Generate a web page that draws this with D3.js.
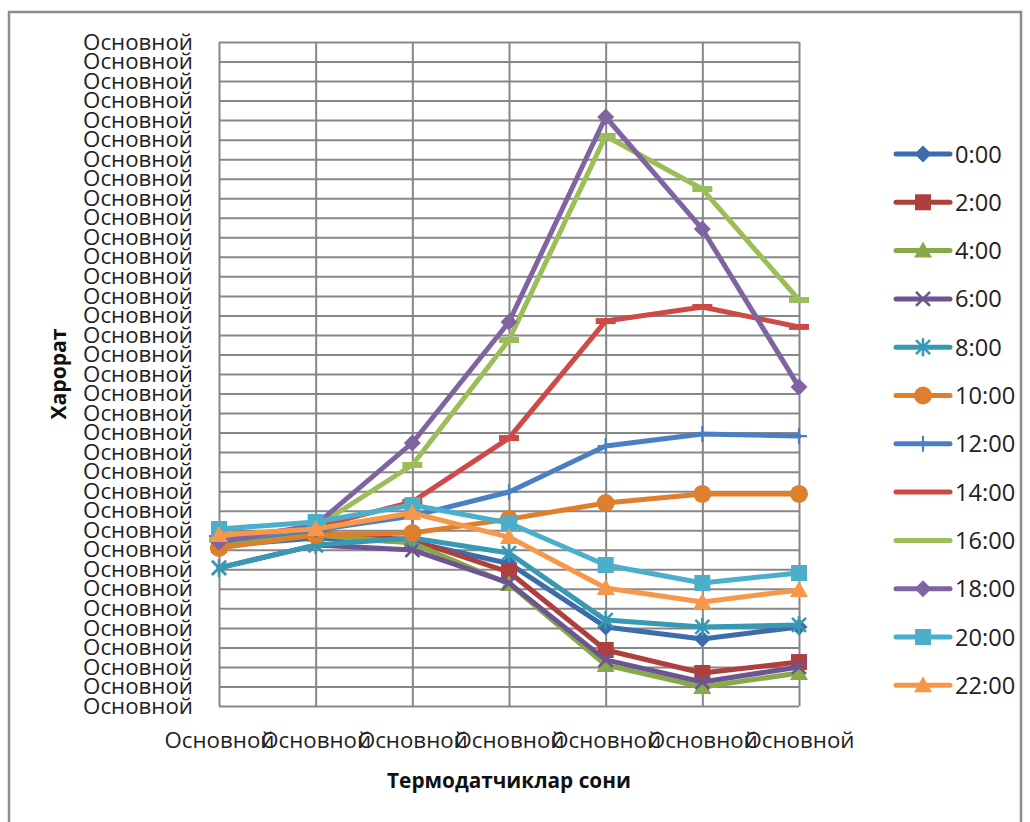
<!DOCTYPE html>
<html><head><meta charset="utf-8">
<script src="https://cdn.jsdelivr.net/npm/d3@7"></script>
<style>body{margin:0;background:#fff} svg{display:block}</style>
</head><body>
<svg id="chart" width="1030" height="822"></svg>
<script>
// ---------- DATA ----------
const categories = ["Основной","Основной","Основной","Основной","Основной","Основной","Основной"];
const yTickValues = [0,1,2,3,4,5,6,7,8,9,10,11,12,13,14,15,16,17,18,19,20,21,22,23,24,25,26,27,28,29,30,31,32,33,34];
const yTickLabels = yTickValues.map(() => "Основной");
const seriesNames = ["0:00","2:00","4:00","6:00","8:00","10:00","12:00","14:00","16:00","18:00","20:00","22:00"];

const s0000 = [8.2, 8.6, 8.4, 7.3, 4.05, 3.43, 4.05];
const s0200 = [8.24, 8.86, 8.5, 6.86, 2.87, 1.69, 2.25];
const s0400 = [8.35, 8.76, 8.35, 6.25, 2.1, 0.97, 1.69];
const s0600 = [7.07, 8.24, 7.99, 6.3, 2.36, 1.23, 2.0];
const s0800 = [7.07, 8.24, 8.6, 7.83, 4.4, 4.05, 4.15];
const s1000 = [8.09, 8.76, 8.86, 9.57, 10.39, 10.86, 10.86];
const s1200 = [8.45, 9.01, 9.73, 10.96, 13.31, 13.93, 13.82];
const s1400 = [8.6, 9.17, 10.45, 13.72, 19.71, 20.43, 19.41];
const s1600 = [8.5, 9.17, 12.34, 18.74, 29.19, 26.47, 20.79];
const s1800 = [8.4, 9.27, 13.47, 19.66, 30.16, 24.42, 16.33];
const s2000 = [9.06, 9.42, 10.29, 9.37, 7.22, 6.3, 6.81];
const s2200 = [8.76, 9.06, 9.88, 8.65, 6.04, 5.33, 5.94];

const seriesValues = [s0000,s0200,s0400,s0600,s0800,s1000,s1200,s1400,s1600,s1800,s2000,s2200];
const seriesColors = ["#3D6CAA","#AE3F3C","#86AA47","#6E5491","#3799B3","#DD7F2D",
                      "#4A7FC4","#CC4B47","#9CBE58","#8064A2","#4BAFCB","#F7974A"];
const seriesMarkers = ["diamond","square","triangle","x","star","circle",
                       "plus","dash","dash","diamond","square","triangle"];

// ---------- LAYOUT ----------
const svg = d3.select("#chart");
const L = 219, R = 799, T = 42, B = 706;
const FONT = "'Open Sans', 'Noto Sans', sans-serif";
const gridColor = "#878787";

// chart border
svg.append("rect").attr("x",9).attr("y",12).attr("width",1012).attr("height",830)
  .attr("fill","none").attr("stroke","#8c8c8c").attr("stroke-width",2.5);

const x = d3.scalePoint().domain(d3.range(categories.length)).range([L, R]).padding(0);
const y = d3.scaleLinear().domain([0, 34]).range([B, T]);

// Y axis with gridlines
const yAxis = svg.append("g").attr("transform",`translate(${L},0)`)
  .call(d3.axisLeft(y).tickValues(yTickValues).tickSize(-(R-L)).tickPadding(26)
        .tickFormat((d,i) => yTickLabels[i]));
yAxis.select(".domain").remove();
yAxis.selectAll(".tick line").attr("stroke",gridColor).attr("stroke-width",2);
yAxis.selectAll(".tick text").attr("font-family",FONT).attr("font-size",22).attr("fill","#222");

// X axis with gridlines
const xAxis = svg.append("g").attr("transform",`translate(0,${B})`)
  .call(d3.axisBottom(x).tickSize(-(B-T)).tickPadding(26).tickFormat(i => categories[i]));
xAxis.select(".domain").remove();
xAxis.selectAll(".tick line").attr("stroke",gridColor).attr("stroke-width",2);
xAxis.selectAll(".tick text").attr("font-family",FONT).attr("font-size",22).attr("fill","#222");

// fit label font size to measured reference width (~110px)
function fitFont(sel, target){
  const n = sel.node(); if(!n) return;
  const fs = +sel.attr("font-size");
  const w = n.getComputedTextLength();
  if (w > 0) sel.attr("font-size", fs * target / w);
}
const yt = yAxis.selectAll(".tick text");
fitFont(d3.select(yt.node()), 110);
const yfs = +d3.select(yt.node()).attr("font-size");
yt.attr("font-size", yfs);
xAxis.selectAll(".tick text").attr("font-size", yfs);

// axis titles
const yTitle = svg.append("text").attr("transform","translate(66,374) rotate(-90)")
  .attr("text-anchor","middle").attr("font-family",FONT).attr("font-weight","bold")
  .attr("font-size",20).attr("fill","#111").text("Харорат");
fitFont(yTitle, 91);
const xTitle = svg.append("text").attr("x",(L+R)/2).attr("y",788)
  .attr("text-anchor","middle").attr("font-family",FONT).attr("font-weight","bold")
  .attr("font-size",20).attr("fill","#111").text("Термодатчиклар сони");
fitFont(xTitle, 244);

// ---------- MARKERS ----------
function marker(g, type, color, cx, cy){
  const m = g.append("g").attr("transform",`translate(${cx},${cy})`);
  switch(type){
    case "diamond":
      m.append("path").attr("d","M0,-8.5L8.5,0L0,8.5L-8.5,0Z").attr("fill",color); break;
    case "square":
      m.append("rect").attr("x",-8).attr("y",-8).attr("width",16).attr("height",16).attr("fill",color); break;
    case "triangle":
      m.append("path").attr("d","M0,-9L9,7L-9,7Z").attr("fill",color); break;
    case "circle":
      m.append("circle").attr("r",9).attr("fill",color); break;
    case "x":
      m.append("path").attr("d","M-7,-7L7,7M-7,7L7,-7").attr("stroke",color).attr("stroke-width",2.6).attr("fill","none"); break;
    case "star":
      m.append("path").attr("d","M-7,-7L7,7M-7,7L7,-7M0,-9L0,9").attr("stroke",color).attr("stroke-width",2.6).attr("fill","none"); break;
    case "plus":
      m.append("path").attr("d","M0,-8L0,8M-8,0L8,0").attr("stroke",color).attr("stroke-width",2.2).attr("fill","none"); break;
    case "dash":
      m.append("rect").attr("x",-10).attr("y",-3).attr("width",20).attr("height",6).attr("fill",color); break;
  }
}

// ---------- SERIES ----------
const line = d3.line().x((d,i) => x(i)).y(d => y(d));
const plot = svg.append("g");
seriesValues.forEach((vals, k) => {
  const g = plot.append("g");
  g.append("path").attr("d", line(vals)).attr("fill","none")
    .attr("stroke", seriesColors[k]).attr("stroke-width",5)
    .attr("stroke-linejoin","round").attr("stroke-linecap","round");
  vals.forEach((v,i) => marker(g, seriesMarkers[k], seriesColors[k], x(i), y(v)));
});

// ---------- LEGEND ----------
const legend = svg.append("g");
seriesNames.forEach((name, k) => {
  const cy = 154 + k * 48.3;
  const g = legend.append("g");
  g.append("line").attr("x1",896).attr("x2",950).attr("y1",cy).attr("y2",cy)
    .attr("stroke",seriesColors[k]).attr("stroke-width",5).attr("stroke-linecap","round");
  if (seriesMarkers[k] !== "dash") marker(g, seriesMarkers[k], seriesColors[k], 923, cy);
  g.append("text").attr("x",955).attr("y",cy).attr("dy","0.36em")
    .attr("font-family",FONT).attr("font-size",yfs * 1.06).attr("fill","#222").text(name);
});
</script>
</body></html>
